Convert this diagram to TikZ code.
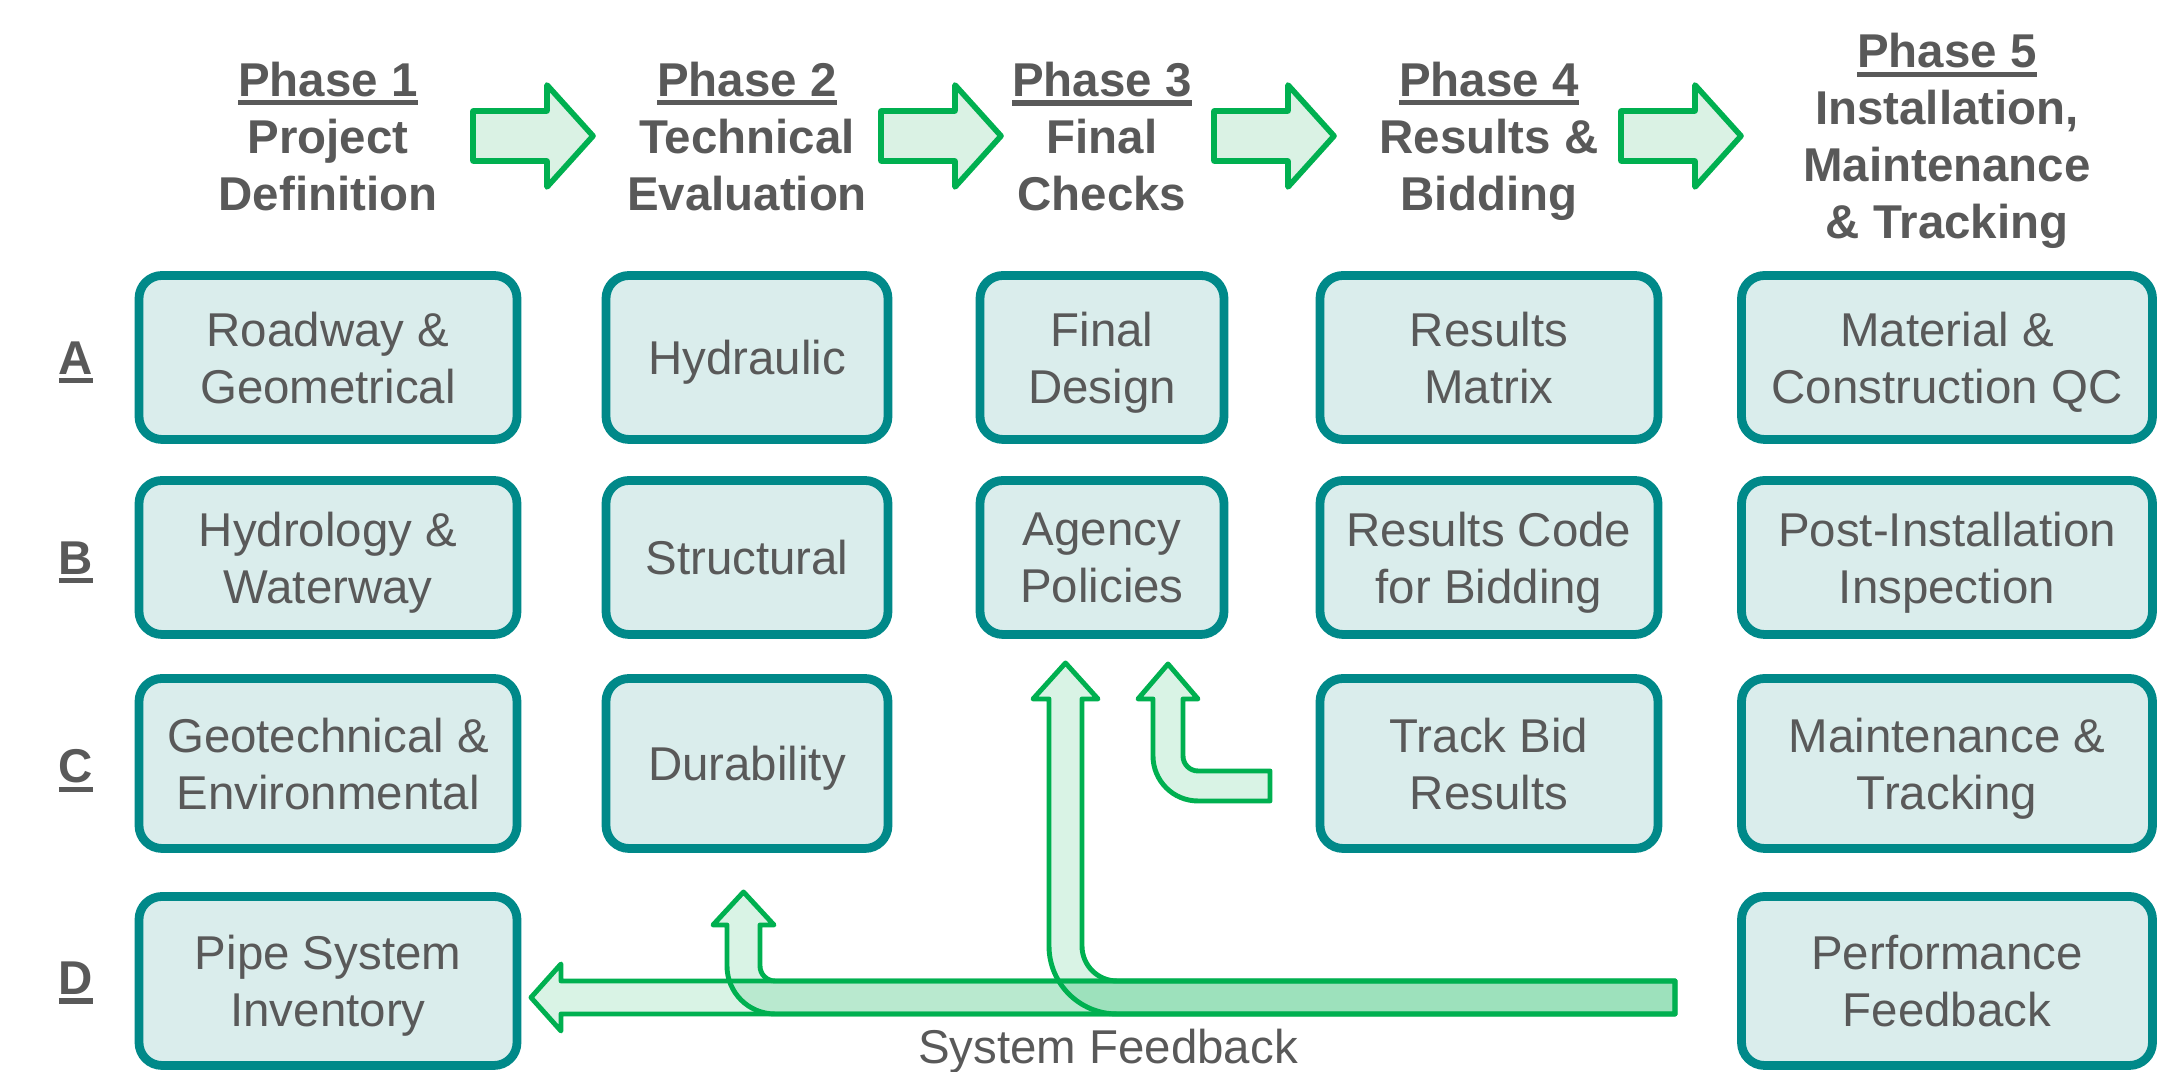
\documentclass[tikz,border=0pt]{standalone}
\usepackage{fontspec}
\setmainfont{Liberation Sans}
\usepackage{tikz}
\usetikzlibrary{arrows.meta,positioning,calc}
\definecolor{txtgray}{RGB}{89,89,89}
\definecolor{cellteal}{RGB}{0,137,137}
\definecolor{cellfill}{RGB}{218,237,236}
\definecolor{flowgreen}{RGB}{0,176,80}
\definecolor{flowfill}{RGB}{218,242,228}

% thick underline for the phase and row headings
\newcommand{\hdul}[1]{\vtop{\hbox{#1}\kern1pt\hrule height 1.5pt}}

\begin{document}
\begin{tikzpicture}[x=1cm,y=1cm,
  cell/.style={draw=cellteal,line width=2.5pt,fill=cellfill,rounded corners=0.23cm,minimum height=1.64cm,text depth=0pt,align=center,text=txtgray,font=\fontsize{13.5}{16.2}\selectfont},
  phase/.style={align=center,text depth=0pt,text=txtgray,font=\fontsize{13.5}{16.2}\selectfont\bfseries},
  rowlbl/.style={anchor=base,text=txtgray,font=\fontsize{13.5}{16.2}\selectfont\bfseries},
  phasearrow/.style={draw=flowgreen,line width=1.6pt,fill=flowfill,line join=round},
  feedback/.style={draw=flowgreen,line width=1.4pt,fill=flowgreen,fill opacity=0.15,line join=round}]
  \useasboundingbox (0,0) rectangle (21.58,10.72);

  % phase headings
  \node[phase] (ph1) at (3.28,9.36) {\hdul{Phase 1}\\Project\\Definition};
  \node[phase] (ph2) at (7.47,9.36) {\hdul{Phase 2}\\Technical\\Evaluation};
  \node[phase] (ph3) at (11.02,9.36) {\hdul{Phase 3}\\Final\\Checks};
  \node[phase] (ph4) at (14.89,9.36) {\hdul{Phase 4}\\Results \&\\Bidding};
  \node[phase] (ph5) at (19.47,9.36) {\hdul{Phase 5}\\Installation,\\Maintenance\\\& Tracking};

  % block arrows between the phases
  \foreach \x in {4.73,8.81,12.14,16.21}
    \draw[phasearrow] (\x,9.11) -- ++(0.74,0) -- ++(0,-0.26) -- ++(0.46,0.51) -- ++(-0.46,0.51) -- ++(0,-0.26) -- ++(-0.74,0) -- cycle;

  % row labels
  \node[rowlbl] (la) at (0.76,6.975) {\hdul{A}};
  \node[rowlbl] (lb) at (0.76,4.975) {\hdul{B}};
  \node[rowlbl] (lc) at (0.76,2.89) {\hdul{C}};
  \node[rowlbl] (ld) at (0.76,0.77) {\hdul{D}};

  % row A
  \node[cell,minimum width=3.78cm] (a1) at (3.28,7.145) {Roadway \&\\Geometrical};
  \node[cell,minimum width=2.82cm] (a2) at (7.47,7.145) {Hydraulic};
  \node[cell,minimum width=2.44cm] (a3) at (11.02,7.145) {Final\\Design};
  \node[cell,minimum width=3.38cm] (a4) at (14.89,7.145) {Results\\Matrix};
  \node[cell,minimum width=4.11cm] (a5) at (19.47,7.145) {Material \&\\Construction QC};

  % row B
  \node[cell,minimum width=3.78cm,minimum height=1.54cm] (b1) at (3.28,5.145) {Hydrology \&\\Waterway};
  \node[cell,minimum width=2.82cm,minimum height=1.54cm] (b2) at (7.47,5.145) {Structural};
  \node[cell,minimum width=2.44cm,minimum height=1.54cm] (b3) at (11.02,5.145) {Agency\\Policies};
  \node[cell,minimum width=3.38cm,minimum height=1.54cm] (b4) at (14.89,5.145) {Results Code\\for Bidding};
  \node[cell,minimum width=4.11cm,minimum height=1.54cm] (b5) at (19.47,5.145) {Post-Installation\\Inspection};

  % row C
  \node[cell,minimum width=3.78cm,minimum height=1.70cm] (c1) at (3.28,3.085) {Geotechnical \&\\Environmental};
  \node[cell,minimum width=2.82cm,minimum height=1.70cm] (c2) at (7.47,3.085) {Durability};
  \node[cell,minimum width=3.38cm,minimum height=1.70cm] (c4) at (14.89,3.085) {Track Bid\\Results};
  \node[cell,minimum width=4.11cm,minimum height=1.70cm] (c5) at (19.47,3.085) {Maintenance \&\\Tracking};

  % row D
  \node[cell,minimum width=3.78cm,minimum height=1.69cm] (d1) at (3.28,0.91) {Pipe System\\Inventory};
  \node[cell,minimum width=4.11cm,minimum height=1.69cm] (d5) at (19.47,0.91) {Performance\\Feedback};

  % feedback arrows (see-through, so the overlaps get darker)
  \coordinate (fbtail) at (16.75,0.745);
  \draw[feedback] (16.75,0.58) -- (16.75,0.91) -- (5.61,0.91) -- (5.61,1.08) -- (5.31,0.745) -- (5.61,0.41) -- (5.61,0.58) -- cycle;
  \draw[feedback] (16.75,0.58) -- (16.75,0.91) -- (7.75,0.91) arc[start angle=270,end angle=180,radius=0.15] -- (7.60,1.47) -- (7.74,1.47) -- (7.435,1.80) -- (7.13,1.47) -- (7.27,1.47) -- (7.27,1.06) arc[start angle=180,end angle=270,radius=0.48] -- cycle;
  \draw[feedback] (16.75,0.58) -- (16.75,0.91) -- (11.17,0.91) arc[start angle=270,end angle=180,radius=0.35] -- (10.82,3.73) -- (10.98,3.73) -- (10.655,4.09) -- (10.33,3.73) -- (10.49,3.73) -- (10.49,1.26) arc[start angle=180,end angle=270,radius=0.68] -- cycle;
  \draw[feedback] (12.70,2.71) -- (12.70,3.01) -- (11.98,3.01) arc[start angle=270,end angle=180,radius=0.15] -- (11.83,3.73) -- (11.98,3.73) -- (11.68,4.08) -- (11.38,3.73) -- (11.53,3.73) -- (11.53,3.16) arc[start angle=180,end angle=270,radius=0.45] -- cycle;

  \node[text=txtgray,font=\fontsize{13.5}{16.2}\selectfont,anchor=base] (fblabel) at (11.08,0.08) {System Feedback};
\end{tikzpicture}
\end{document}
